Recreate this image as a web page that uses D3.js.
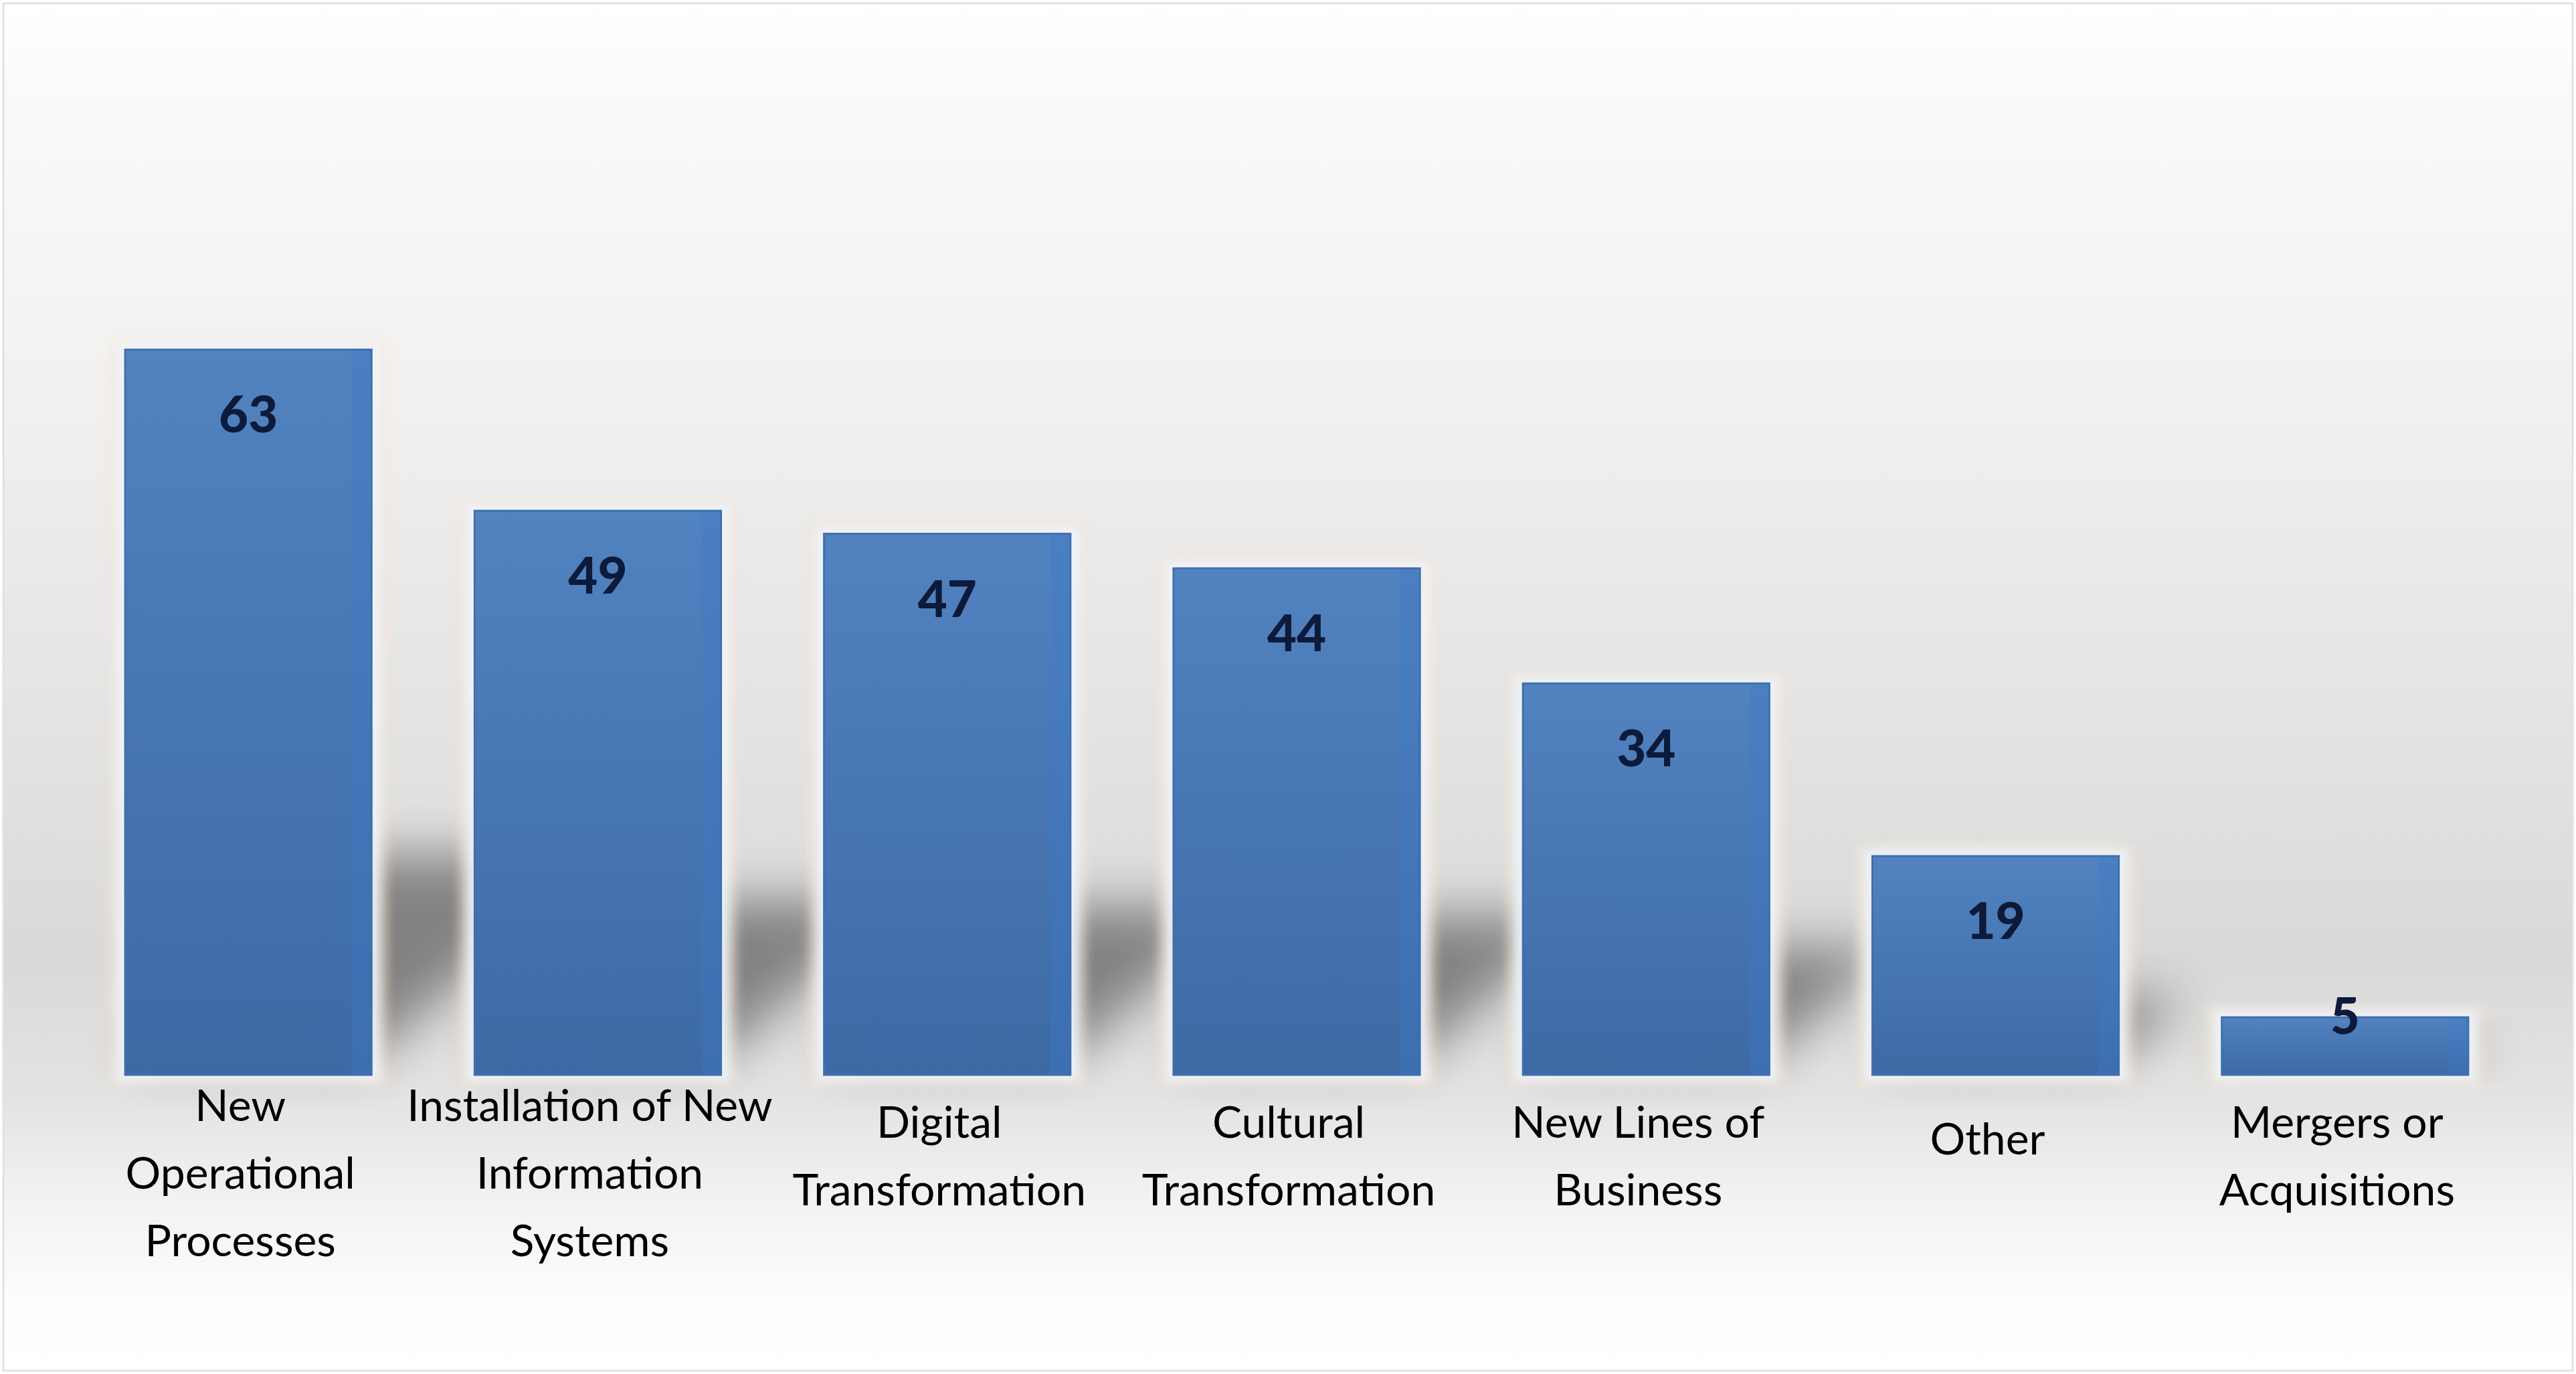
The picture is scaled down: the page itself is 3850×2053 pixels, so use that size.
<!DOCTYPE html>
<html>
<head>
<meta charset="utf-8">
<script src="https://cdn.jsdelivr.net/npm/d3@7"></script>
<style>
  body { margin: 0; background: #ffffff; }
  svg { display: block; }
</style>
</head>
<body>
<div id="chart"></div>
<script>
// ---------------- data ----------------
const categories = [
  "New Operational Processes",
  "Installation of New Information Systems",
  "Digital Transformation",
  "Cultural Transformation",
  "New Lines of Business",
  "Other",
  "Mergers or Acquisitions"
];
const values = [63, 49, 47, 44, 34, 19, 5];
// tick labels as they wrap under each bar
const tickLabels = [
  ["New", "Operational", "Processes"],
  ["Installation of New", "Information", "Systems"],
  ["Digital", "Transformation"],
  ["Cultural", "Transformation"],
  ["New Lines of", "Business"],
  ["Other"],
  ["Mergers or", "Acquisitions"]
];

const width = 3850, height = 2053;

const svg = d3.select("#chart")
  .append("svg")
  .attr("width", width)
  .attr("height", height);

const defs = svg.append("defs");

// background gradient (white -> grey -> white)
const bg = defs.append("linearGradient")
  .attr("id", "bgGrad")
  .attr("x1", 0).attr("y1", 0).attr("x2", 0).attr("y2", 1);
[[0, "#ffffff"], [0.05, "#fbfbfb"], [0.3, "#f0f0f0"], [0.55, "#e2e2e2"],
 [0.7, "#d9d9d9"], [0.8, "#e3e3e3"], [0.88, "#f3f3f3"], [0.95, "#fdfdfd"], [1, "#ffffff"]]
  .forEach(s => bg.append("stop").attr("offset", s[0]).attr("stop-color", s[1]));

// bar fill gradient
const barGrad = defs.append("linearGradient")
  .attr("id", "barGrad")
  .attr("x1", 0).attr("y1", 0).attr("x2", 0).attr("y2", 1);
barGrad.append("stop").attr("offset", 0).attr("stop-color", "#5183c0");
barGrad.append("stop").attr("offset", 1).attr("stop-color", "#3d6aa5");

defs.append("filter").attr("id", "shadowBlur")
  .attr("x", "-60%").attr("y", "-150%").attr("width", "220%").attr("height", "400%")
  .append("feGaussianBlur").attr("stdDeviation", 38);

defs.append("filter").attr("id", "glowBlur")
  .attr("x", "-20%").attr("y", "-20%").attr("width", "140%").attr("height", "140%")
  .append("feGaussianBlur").attr("stdDeviation", 7);

// background + frame
svg.append("rect")
  .attr("x", 5).attr("y", 5)
  .attr("width", width - 10).attr("height", height - 10)
  .attr("fill", "url(#bgGrad)")
  .attr("stroke", "#e2e2e2")
  .attr("stroke-width", 3);

// ---------------- scales ----------------
const x = d3.scaleBand()
  .domain(categories)
  .range([110, 3766])
  .paddingInner(0.295)
  .paddingOuter(0.1476);

const y = d3.scaleLinear()
  .domain([0, 70])
  .range([1606, 402]);

const data = categories.map((c, i) => ({ cat: c, value: values[i], lines: tickLabels[i] }));

// perspective shadows behind bars
svg.append("g")
  .selectAll("path")
  .data(data)
  .join("path")
  .attr("d", d => {
    const l = x(d.cat), r = l + x.bandwidth(), b = y(0) - 25;
    const sh = 0.28 * (y(0) - y(d.value));
    const dx = sh * 1.13;
    return `M${l},${b}L${r},${b}L${r + dx},${b - sh}L${l + dx},${b - sh}Z`;
  })
  .attr("fill", "#000")
  .attr("opacity", 0.4)
  .attr("filter", "url(#shadowBlur)");

// soft glow round bars
const glow = svg.append("g");
glow.selectAll("rect.outer")
  .data(data)
  .join("rect")
  .attr("class", "outer")
  .attr("x", d => x(d.cat) - 26)
  .attr("y", d => y(d.value) - 20)
  .attr("width", x.bandwidth() + 52)
  .attr("height", d => y(0) - y(d.value) + 40)
  .attr("fill", "#f6e3d2")
  .attr("opacity", 0.4)
  .attr("filter", "url(#glowBlur)");
glow.selectAll("rect.inner")
  .data(data)
  .join("rect")
  .attr("class", "inner")
  .attr("x", d => x(d.cat) - 13)
  .attr("y", d => y(d.value) - 10)
  .attr("width", x.bandwidth() + 26)
  .attr("height", d => y(0) - y(d.value) + 20)
  .attr("fill", "#eef4fb")
  .attr("opacity", 0.9)
  .attr("filter", "url(#glowBlur)");

// bars
const bars = svg.append("g");
bars.selectAll("rect.bar")
  .data(data)
  .join("rect")
  .attr("class", "bar")
  .attr("x", d => x(d.cat))
  .attr("y", d => y(d.value))
  .attr("width", x.bandwidth())
  .attr("height", d => y(0) - y(d.value))
  .attr("fill", "url(#barGrad)")
  .attr("stroke", "#416fae")
  .attr("stroke-width", 3);
// slightly brighter right edge
bars.selectAll("rect.edge")
  .data(data)
  .join("rect")
  .attr("class", "edge")
  .attr("x", d => x(d.cat) + x.bandwidth() - 30)
  .attr("y", d => y(d.value) + 2)
  .attr("width", 28)
  .attr("height", d => y(0) - y(d.value) - 4)
  .attr("fill", "#3a7acb")
  .attr("opacity", 0.3);

// value labels (inside end)
svg.append("g")
  .selectAll("text")
  .data(data)
  .join("text")
  .attr("x", d => x(d.cat) + x.bandwidth() / 2)
  .attr("y", d => Math.min(y(d.value) + 124, y(0) - 61))
  .attr("text-anchor", "middle")
  .attr("font-family", "Lato, 'Open Sans', sans-serif")
  .attr("font-weight", 900)
  .attr("font-size", 76)
  .attr("fill", "#0d1a3a")
  .text(d => d.value);

// category axis
const axis = svg.append("g")
  .attr("transform", `translate(0, ${y(0)})`)
  .call(d3.axisBottom(x).tickSize(0));
axis.select(".domain").remove();

axis.selectAll(".tick text")
  .attr("font-family", "Lato, 'Open Sans', sans-serif")
  .attr("font-size", 66)
  .attr("fill", "#000")
  .attr("y", 0)
  .attr("dy", null)
  .text(null)
  .each(function(c) {
    const lines = tickLabels[categories.indexOf(c)];
    const first = 119 - (lines.length - 1) * 25;
    lines.forEach((ln, k) => {
      d3.select(this).append("tspan")
        .attr("x", -12)
        .attr("y", first + k * 101)
        .text(ln);
    });
  });
</script>
</body>
</html>
